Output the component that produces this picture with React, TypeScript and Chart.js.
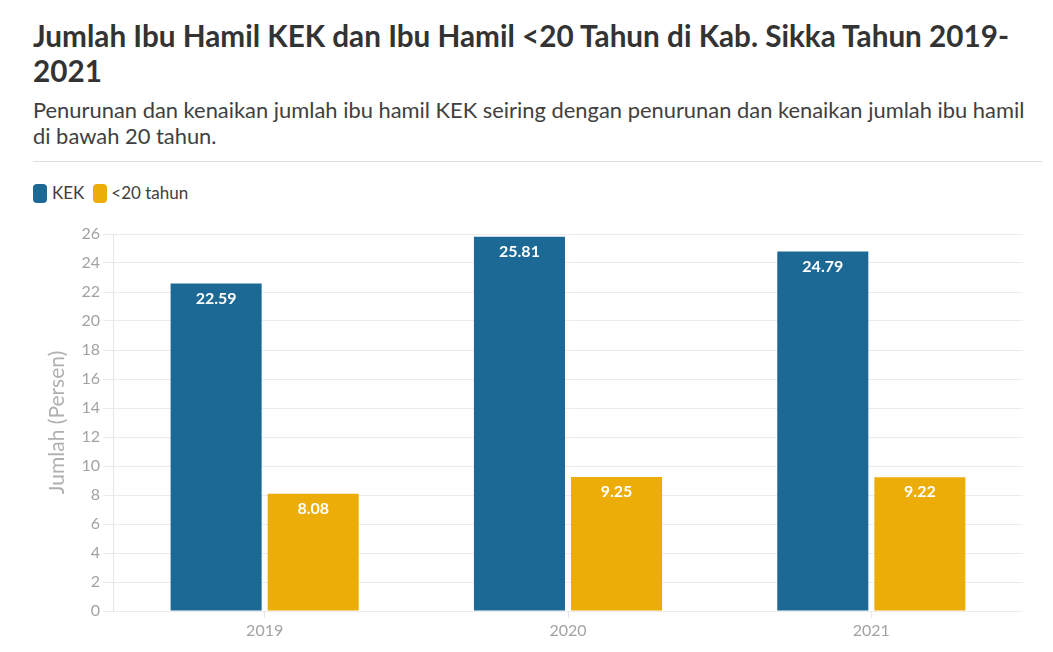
import { useEffect, useRef } from 'react'
import { Chart, registerables } from 'chart.js'

Chart.register(...registerables)

const years = ['2019', '2020', '2021']
const kek = [22.59, 25.81, 24.79]
const under20 = [8.08, 9.25, 9.22]
const yTicks = [0, 2, 4, 6, 8, 10, 12, 14, 16, 18, 20, 22, 24, 26]

const FONT = 'Lato, "Noto Sans", sans-serif'

const barLabels = {
  id: 'barLabels',
  afterDatasetsDraw(chart: any) {
    const ctx = chart.ctx
    ctx.save()
    ctx.fillStyle = '#ffffff'
    ctx.font = `bold 16px ${FONT}`
    ctx.textAlign = 'center'
    ctx.textBaseline = 'middle'
    chart.data.datasets.forEach((ds: any, i: number) => {
      chart.getDatasetMeta(i).data.forEach((bar: any, j: number) => {
        ctx.fillText(ds.data[j].toFixed(2), bar.x, bar.y + 15)
      })
    })
    ctx.restore()
  }
}

export default function App() {
  const canvasRef = useRef<HTMLCanvasElement>(null)
  const chartRef = useRef<Chart | null>(null)

  useEffect(() => {
    document.body.style.margin = '0'
    if (!canvasRef.current) return
    if (chartRef.current) chartRef.current.destroy()

    chartRef.current = new Chart(canvasRef.current, {
      type: 'bar',
      data: {
        labels: years,
        datasets: [
          {
            label: 'KEK',
            data: kek,
            backgroundColor: '#1d6996',
            borderWidth: 0,
            categoryPercentage: 0.64,
            barPercentage: 0.938
          },
          {
            label: '<20 tahun',
            data: under20,
            backgroundColor: '#edad08',
            borderWidth: 0,
            categoryPercentage: 0.64,
            barPercentage: 0.938
          }
        ]
      },
      options: {
        animation: false,
        responsive: false,
        maintainAspectRatio: false,
        layout: { padding: { top: 19, right: 30, left: 0, bottom: 0 } },
        plugins: {
          legend: { display: false },
          tooltip: { enabled: false }
        },
        scales: {
          x: {
            grid: {
              display: true,
              drawOnChartArea: false,
              offset: false,
              tickLength: 7,
              color: '#e6e6e6'
            },
            border: { display: false },
            ticks: {
              color: '#a3a3a3',
              font: { family: FONT, size: 16 },
              padding: 3
            },
            afterFit: (s: any) => {
              s.height = 41
            }
          },
          y: {
            min: 0,
            max: 26,
            afterBuildTicks: (s: any) => {
              s.ticks = yTicks.map((v) => ({ value: v }))
            },
            grid: { color: '#ebebeb', tickLength: 10, lineWidth: 1 },
            border: { display: true, color: '#e6e6e6' },
            ticks: {
              color: '#a3a3a3',
              font: { family: FONT, size: 16 },
              padding: 3
            },
            title: {
              display: true,
              text: 'Jumlah (Persen)',
              color: '#b0b0b0',
              font: { family: FONT, size: 21 },
              padding: { top: 45, bottom: 0 }
            },
            afterFit: (s: any) => {
              s.width = 113
            }
          }
        }
      },
      plugins: [barLabels]
    })

    return () => {
      if (chartRef.current) {
        chartRef.current.destroy()
        chartRef.current = null
      }
    }
  }, [])

  return (
    <div style={{ position: 'relative', width: 1053, height: 652, fontFamily: FONT, background: '#fff' }}>
      <div
        style={{
          position: 'absolute',
          left: 33,
          top: 18,
          width: 1010,
          fontSize: 29.7,
          lineHeight: '35px',
          fontWeight: 700,
          color: '#333333'
        }}
      >
        Jumlah Ibu Hamil KEK dan Ibu Hamil &lt;20 Tahun di Kab. Sikka Tahun 2019-
        <br />
        2021
      </div>
      <div
        style={{
          position: 'absolute',
          left: 33,
          top: 97,
          width: 1015,
          fontSize: 21.9,
          lineHeight: '26px',
          color: '#404040',
          whiteSpace: 'nowrap'
        }}
      >
        Penurunan dan kenaikan jumlah ibu hamil KEK seiring dengan penurunan dan kenaikan jumlah ibu hamil
        <br />
        di bawah 20 tahun.
      </div>
      <div style={{ position: 'absolute', left: 33, top: 161, width: 1009, height: 1, background: '#dddddd' }} />
      <div
        style={{
          position: 'absolute',
          left: 33,
          top: 183,
          display: 'flex',
          alignItems: 'center',
          fontSize: 17,
          color: '#404040',
          lineHeight: '20px'
        }}
      >
        <span style={{ display: 'inline-block', width: 14, height: 19, borderRadius: 4, background: '#1d6996', marginRight: 5 }} />
        <span style={{ marginRight: 9 }}>KEK</span>
        <span style={{ display: 'inline-block', width: 14, height: 19, borderRadius: 4, background: '#edad08', marginRight: 4 }} />
        <span>&lt;20 tahun</span>
      </div>
      <canvas
        ref={canvasRef}
        width={1053}
        height={437}
        style={{ position: 'absolute', left: 0, top: 215, width: 1053, height: 437 }}
      />
    </div>
  )
}
